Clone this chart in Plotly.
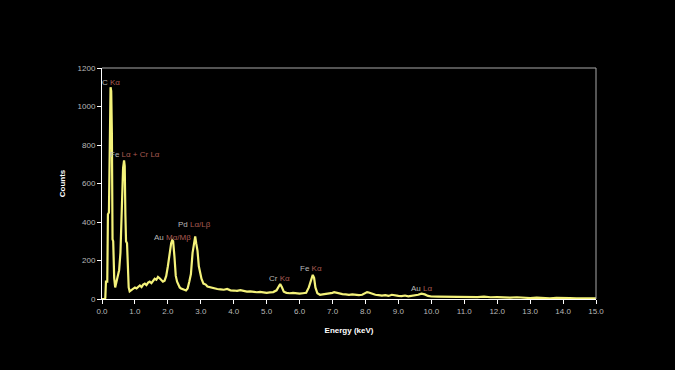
import plotly.graph_objects as go

energy = [0.00, 0.08, 0.10, 0.12, 0.16, 0.18, 0.21, 0.24, 0.26, 0.28, 0.30, 0.32, 0.34, 0.37, 0.40,
          0.44, 0.48, 0.52, 0.56, 0.59, 0.62, 0.64, 0.67, 0.69, 0.71, 0.73, 0.76, 0.78, 0.81, 0.84,
          0.88, 0.92, 0.96, 1.00, 1.05, 1.10, 1.15, 1.20, 1.25, 1.30, 1.35, 1.40, 1.45, 1.50, 1.55,
          1.60, 1.65, 1.70, 1.75, 1.80, 1.85, 1.90, 1.95, 2.00, 2.05, 2.10, 2.13, 2.16, 2.20, 2.24,
          2.28, 2.32, 2.36, 2.40, 2.45, 2.50, 2.55, 2.60, 2.65, 2.70, 2.75, 2.80, 2.83, 2.86, 2.90,
          2.94, 2.98, 3.02, 3.08, 3.15, 3.20, 3.30, 3.40, 3.50, 3.60, 3.70, 3.80, 3.90, 4.00, 4.10,
          4.20, 4.30, 4.40, 4.50, 4.60, 4.70, 4.80, 4.90, 5.00, 5.10, 5.20, 5.30, 5.36, 5.41, 5.46,
          5.52, 5.60, 5.70, 5.80, 5.90, 6.00, 6.10, 6.20, 6.28, 6.34, 6.40, 6.44, 6.48, 6.54, 6.62,
          6.70, 6.80, 6.90, 7.00, 7.05, 7.10, 7.20, 7.30, 7.40, 7.50, 7.60, 7.70, 7.80, 7.90, 8.00,
          8.05, 8.10, 8.20, 8.30, 8.40, 8.50, 8.60, 8.70, 8.80, 8.90, 9.00, 9.10, 9.20, 9.30, 9.40,
          9.50, 9.60, 9.70, 9.80, 9.90, 10.0, 10.2, 10.4, 10.6, 10.8, 11.0, 11.2, 11.4, 11.6, 11.8,
          12.0, 12.2, 12.4, 12.6, 12.8, 13.0, 13.2, 13.4, 13.6, 13.8, 14.0, 14.2, 14.4, 14.6, 14.8,
          15.0]
counts = [0, 0, 5, 90, 90, 440, 450, 1000, 1100, 1080, 860, 310, 300, 110, 60,
          90, 120, 150, 240, 420, 600, 680, 720, 690, 440, 300, 290, 130, 60, 40,
          45, 50, 55, 60, 55, 65, 70, 62, 75, 80, 72, 85, 90, 82, 95,
          105, 100, 115, 108, 100, 90, 95, 120, 170, 240, 290, 305, 300, 220, 120,
          90, 70, 60, 55, 50, 48, 45, 55, 90, 130, 240, 310, 325, 290, 250,
          170, 130, 105, 80, 75, 65, 60, 55, 52, 50, 48, 52, 45, 44, 42,
          46, 40, 38, 40, 36, 35, 37, 33, 32, 34, 36, 45, 65, 78, 62,
          38, 32, 30, 32, 30, 28, 30, 32, 60, 100, 125, 110, 60, 30, 22,
          24, 26, 28, 32, 36, 34, 28, 25, 24, 22, 24, 22, 20, 22, 30,
          36, 34, 26, 22, 20, 18, 20, 16, 22, 18, 16, 15, 18, 14, 16,
          18, 22, 28, 24, 16, 13, 12, 11, 12, 10, 11, 9, 10, 12, 9,
          10, 8, 7, 9, 6, 5, 7, 5, 4, 6, 4, 5, 4, 3, 4,
          3]

# peak labels: (element, line, x, y)
label_elem = ["C", "Fe", "Au", "Pd", "Cr", "Fe", "Au"]
label_line = ["Kα", "Lα + Cr Lα", "Mα/Mβ", "Lα/Lβ", "Kα", "Kα", "Lα"]
label_x = [0.26, 1.0, 2.13, 2.82, 5.4, 6.35, 9.69]
label_y = [1126, 753, 322, 389, 104, 156, 57]

x_ticks = [i * 1.0 for i in range(16)]
x_tick_text = ["%.1f" % v for v in x_ticks]
y_ticks = [0, 200, 400, 600, 800, 1000, 1200]

fig = go.Figure()
fig.add_trace(go.Scatter(x=energy, y=counts, mode="lines",
                         line=dict(color="#f4f27a", width=2.2), showlegend=False))

for el, ln, x, y in zip(label_elem, label_line, label_x, label_y):
    fig.add_annotation(x=x, y=y, xref="x", yref="y", showarrow=False,
                       text='<span style="color:#b8b8b8">%s </span><span style="color:#a85a50">%s</span>' % (el, ln),
                       font=dict(size=8, family="Liberation Sans"))

fig.update_layout(
    width=675, height=370,
    margin=dict(l=102, r=79, t=68, b=71),
    paper_bgcolor="black", plot_bgcolor="black",
    font=dict(family="Liberation Sans", color="#c8c8c8", size=8),
    xaxis=dict(range=[0, 15], tickvals=x_ticks, ticktext=x_tick_text,
               showgrid=False, zeroline=False, showline=True, linecolor="white", linewidth=1,
               ticks="outside", ticklen=4, tickcolor="white",
               tickfont=dict(size=8, color="#b8b8b8"),
               title=dict(text="<b>Energy (keV)</b>", font=dict(size=8, color="white"), standoff=12)),
    yaxis=dict(range=[0, 1200], tickvals=y_ticks,
               showgrid=False, zeroline=False, showline=True, linecolor="white", linewidth=1,
               ticks="outside", ticklen=4, tickcolor="white",
               tickfont=dict(size=8, color="#b8b8b8"),
               title=dict(text="<b>Counts</b>", font=dict(size=8, color="white"), standoff=10)),
    shapes=[
        dict(type="line", xref="paper", yref="paper", x0=0, x1=1, y0=1, y1=1,
             line=dict(color="#a8a8a8", width=1)),
        dict(type="line", xref="paper", yref="paper", x0=1, x1=1, y0=0, y1=1,
             line=dict(color="#a8a8a8", width=1)),
    ],
)

fig.write_html("out.html",
               config={"displayModeBar": False},
               post_script="document.body.style.margin='0';document.body.style.padding='0';"
                           "document.body.style.background='black';"
                           "document.documentElement.style.background='black';"
                           "document.body.style.overflow='hidden';")
